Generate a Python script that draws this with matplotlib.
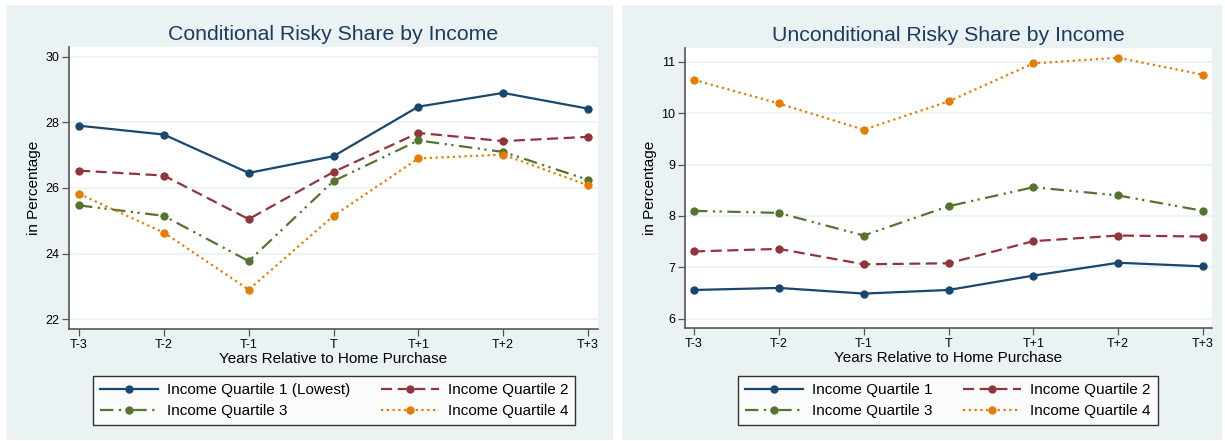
import matplotlib

matplotlib.use("Agg")

import matplotlib.pyplot as plt
from matplotlib.patches import Rectangle

plt.rcParams["font.family"] = ["Liberation Sans", "DejaVu Sans"]

periods = ["T-3", "T-2", "T-1", "T", "T+1", "T+2", "T+3"]

cond_q1 = [27.90, 27.63, 26.46, 26.97, 28.48, 28.90, 28.42]
cond_q2 = [26.53, 26.38, 25.05, 26.49, 27.68, 27.43, 27.56]
cond_q3 = [25.47, 25.15, 23.77, 26.21, 27.45, 27.10, 26.25]
cond_q4 = [25.82, 24.64, 22.90, 25.15, 26.90, 27.02, 26.08]

uncond_q1 = [6.56, 6.60, 6.49, 6.56, 6.84, 7.09, 7.02]
uncond_q2 = [7.31, 7.36, 7.06, 7.08, 7.51, 7.62, 7.60]
uncond_q3 = [8.10, 8.06, 7.62, 8.19, 8.56, 8.40, 8.10]
uncond_q4 = [10.65, 10.19, 9.68, 10.23, 10.97, 11.08, 10.75]

cond_labels = ["Income Quartile 1 (Lowest)", "Income Quartile 2",
               "Income Quartile 3", "Income Quartile 4"]
uncond_labels = ["Income Quartile 1", "Income Quartile 2",
                 "Income Quartile 3", "Income Quartile 4"]

cond_ticks = [22, 24, 26, 28, 30]
uncond_ticks = [6, 7, 8, 9, 10, 11]

COLORS = ["#1a476f", "#90353b", "#55752f", "#e37e00"]
STYLES = ["-", (0, (5, 2.5)), (0, (6, 2.5, 1, 2, 1, 2.5)), (0, (1, 1.6))]
BG = "#eaf2f3"
TITLE_COLOR = "#1e3a5f"

W, H = 1225, 441
fig = plt.figure(figsize=(W / 100, H / 100), dpi=100)
fig.patch.set_facecolor("white")


def px_box(x0, y0, x1, y1):
    # pixel box (top-left origin) -> figure fraction rect
    return [x0 / W, 1 - y1 / H, (x1 - x0) / W, (y1 - y0) / H]


def draw_panel(bg_box, ax_box, title, series, labels, ticks, ylim, xpad, legend_center):
    bx = px_box(*bg_box)
    fig.patches.append(Rectangle((bx[0], bx[1]), bx[2], bx[3], transform=fig.transFigure,
                                 facecolor=BG, edgecolor="none", zorder=-5))
    ax = fig.add_axes(px_box(*ax_box))
    ax.set_facecolor("white")
    x = list(range(len(periods)))
    handles = []
    for vals, color, style, label in zip(series, COLORS, STYLES, labels):
        (line,) = ax.plot(x, vals, color=color, linestyle=style, lw=1.6,
                          marker="o", markersize=6, markeredgewidth=0,
                          label=label, zorder=3)
        handles.append(line)
    ax.set_xlim(-xpad[0], len(periods) - 1 + xpad[1])
    ax.set_ylim(*ylim)
    ax.set_xticks(x)
    ax.set_xticklabels(periods, fontsize=9)
    ax.set_yticks(ticks)
    ax.set_yticklabels([str(t) for t in ticks], fontsize=9)
    ax.grid(axis="y", color=BG, lw=1.2)
    ax.set_axisbelow(True)
    for side in ["top", "right"]:
        ax.spines[side].set_visible(False)
    for side in ["left", "bottom"]:
        ax.spines[side].set_color("#555555")
        ax.spines[side].set_linewidth(1.2)
    ax.tick_params(direction="out", length=5, width=0.9, color="#555555", pad=2)
    ax.set_title(title, fontsize=15.3, color=TITLE_COLOR, pad=5)
    ax.set_xlabel("Years Relative to Home Purchase", fontsize=11, labelpad=1)
    ax.set_ylabel("in Percentage", fontsize=11, labelpad=3)
    order = [0, 2, 1, 3]
    leg = ax.legend([handles[i] for i in order], [labels[i] for i in order],
                    ncol=2, loc="center",
                    bbox_to_anchor=(legend_center[0] / W, 1 - legend_center[1] / H),
                    bbox_transform=fig.transFigure, fontsize=11,
                    frameon=True, fancybox=False, edgecolor="black",
                    handlelength=3.8, handletextpad=0.6, columnspacing=2.0,
                    borderpad=0.45, labelspacing=0.45, borderaxespad=0)
    leg.get_frame().set_linewidth(1.0)
    return ax


draw_panel((7, 5, 613, 440), (69, 47, 598, 329),
           "Conditional Risky Share by Income",
           [cond_q1, cond_q2, cond_q3, cond_q4], cond_labels,
           cond_ticks, (21.7, 30.3), (0.118, 0.118), (334, 400.5))

draw_panel((622, 5, 1222, 440), (685, 48, 1212, 328),
           "Unconditional Risky Share by Income",
           [uncond_q1, uncond_q2, uncond_q3, uncond_q4], uncond_labels,
           uncond_ticks, (5.82, 11.27), (0.106, 0.106), (948, 400.5))

fig.savefig("out.png", dpi=100, facecolor=fig.get_facecolor())
